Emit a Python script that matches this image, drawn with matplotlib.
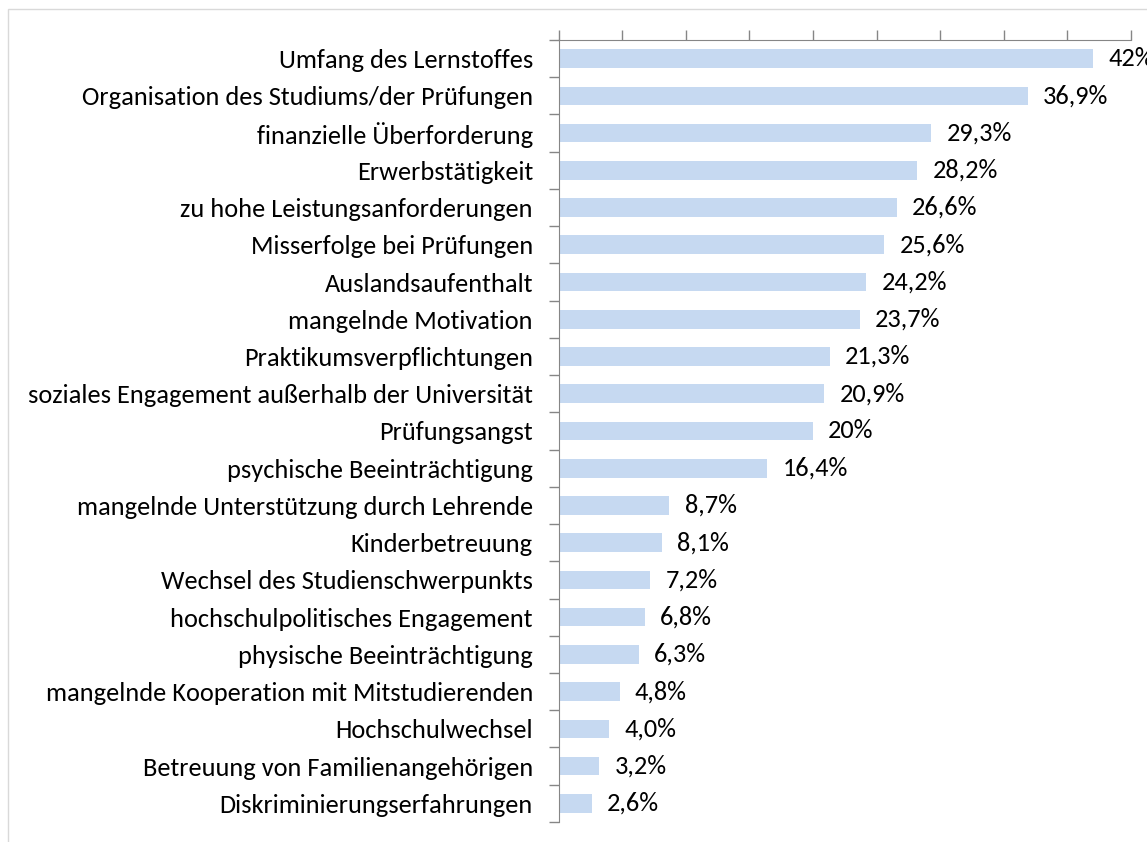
import matplotlib
matplotlib.use("Agg")
import matplotlib.pyplot as plt
from matplotlib.patches import Rectangle

plt.rcParams['font.family'] = ['Carlito', 'Open Sans', 'DejaVu Sans']

# Data (top to bottom as shown)
categories = [
    "Umfang des Lernstoffes",
    "Organisation des Studiums/der Prüfungen",
    "finanzielle Überforderung",
    "Erwerbstätigkeit",
    "zu hohe Leistungsanforderungen",
    "Misserfolge bei Prüfungen",
    "Auslandsaufenthalt",
    "mangelnde Motivation",
    "Praktikumsverpflichtungen",
    "soziales Engagement außerhalb der Universität",
    "Prüfungsangst",
    "psychische Beeinträchtigung",
    "mangelnde Unterstützung durch Lehrende",
    "Kinderbetreuung",
    "Wechsel des Studienschwerpunkts",
    "hochschulpolitisches Engagement",
    "physische Beeinträchtigung",
    "mangelnde Kooperation mit Mitstudierenden",
    "Hochschulwechsel",
    "Betreuung von Familienangehörigen",
    "Diskriminierungserfahrungen",
]
values = [42, 36.9, 29.3, 28.2, 26.6, 25.6, 24.2, 23.7, 21.3, 20.9, 20,
          16.4, 8.7, 8.1, 7.2, 6.8, 6.3, 4.8, 4.0, 3.2, 2.6]
value_labels = ["42%", "36,9%", "29,3%", "28,2%", "26,6%", "25,6%", "24,2%",
                "23,7%", "21,3%", "20,9%", "20%", "16,4%", "8,7%", "8,1%",
                "7,2%", "6,8%", "6,3%", "4,8%", "4,0%", "3,2%", "2,6%"]

fig = plt.figure(figsize=(11.47, 8.42), dpi=100, facecolor='white')
ax = fig.add_axes([0.487, 0.0238, 0.499, 0.9287])

# outer chart border (light grey frame of the chart area)
fig.patches.append(Rectangle((0.007, -0.01), 1.0, 0.999,
                             transform=fig.transFigure, fill=False,
                             edgecolor='#d9d9d9', linewidth=1))

pos = list(range(len(categories)))
ax.barh(pos, values, height=0.5, color='#c6d9f1')
ax.set_ylim(len(categories) - 0.5, -0.5)
ax.set_xlim(0, 45)

# value axis on top, ticks only
ax.xaxis.tick_top()
ax.set_xticks(range(0, 46, 5))
ax.set_xticklabels([])
ax.tick_params(axis='x', direction='out', length=7, color='#868686', width=1)

# category ticks between bars, labels centred on bars
ax.set_yticks([p - 0.5 for p in range(len(categories) + 1)])
ax.set_yticklabels([])
ax.set_yticks(pos, minor=True)
ax.set_yticklabels(categories, minor=True, fontsize=19)
ax.tick_params(axis='y', which='major', direction='out', length=7, color='#868686', width=1)
ax.tick_params(axis='y', which='minor', length=0, pad=18.5)

for s in ['right', 'bottom']:
    ax.spines[s].set_visible(False)
for s in ['left', 'top']:
    ax.spines[s].set_color('#868686')

for p, v, lab in zip(pos, values, value_labels):
    ax.annotate(lab, (v, p), xytext=(11, 0), textcoords='offset points',
                va='center', ha='left', fontsize=19, annotation_clip=False)

fig.savefig("out.png", dpi=100)
